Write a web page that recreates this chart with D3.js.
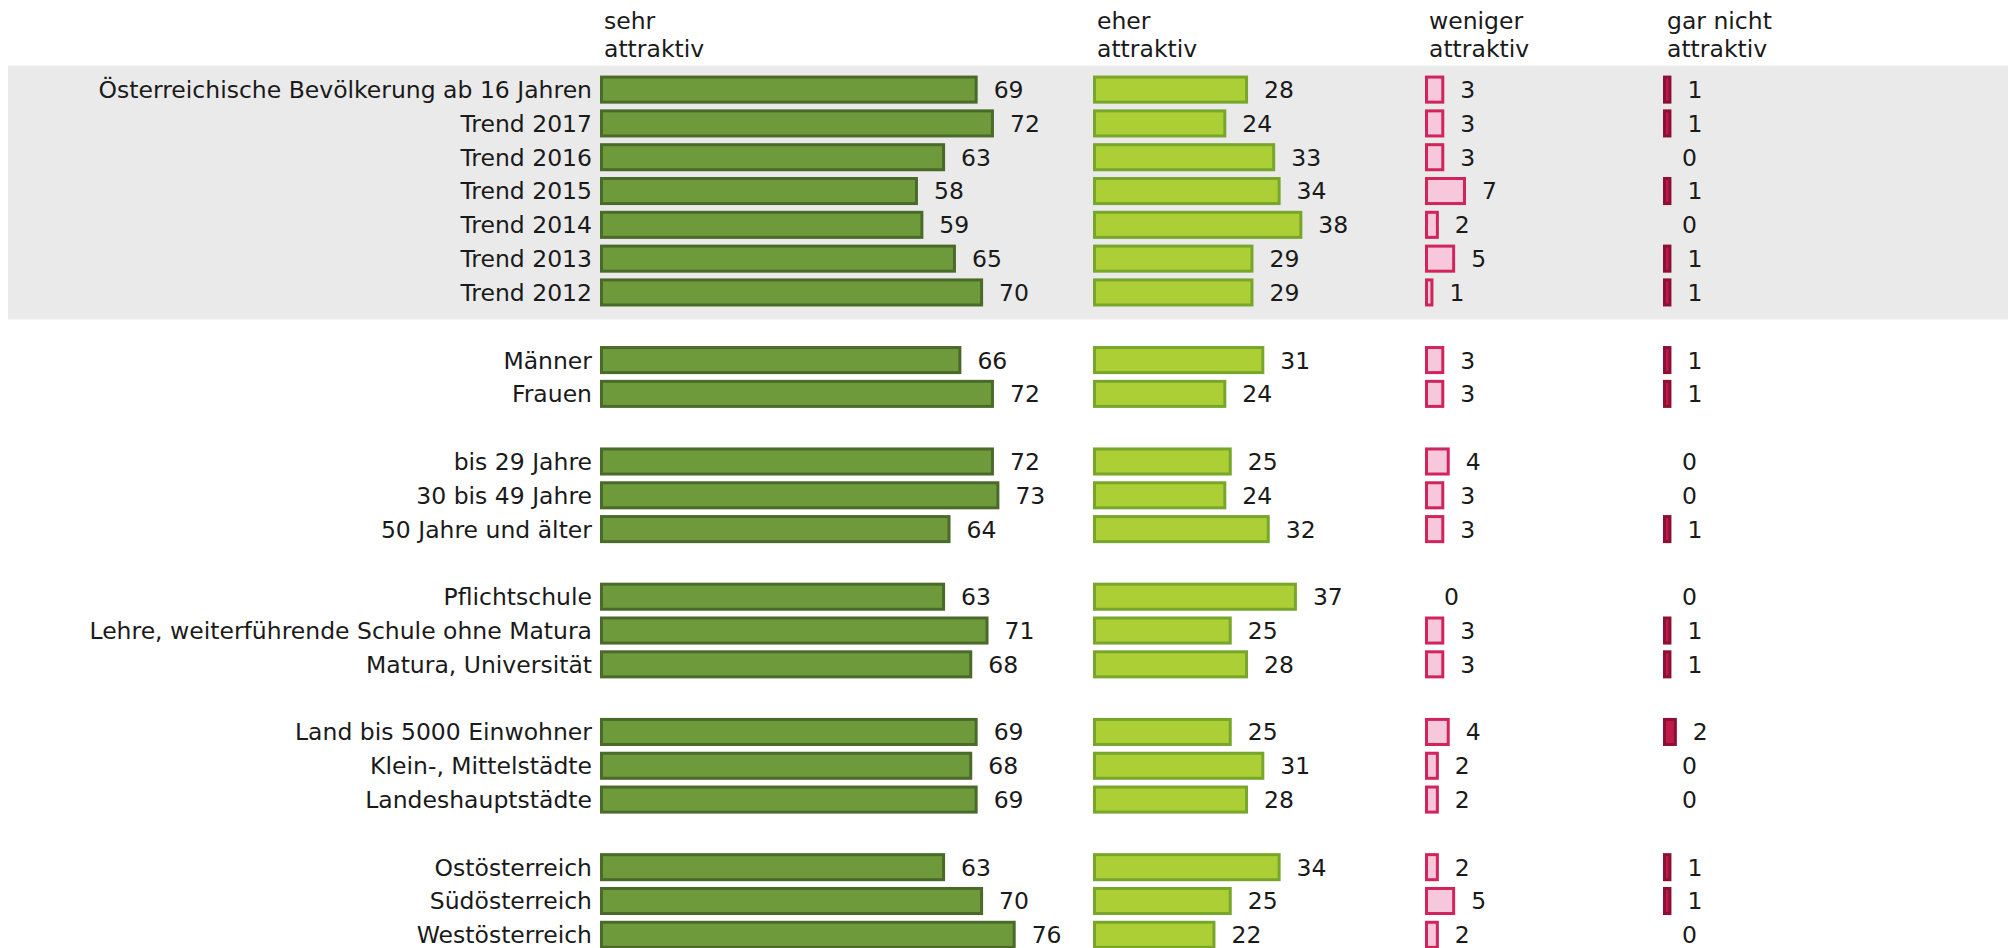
<!DOCTYPE html>
<html>
<head>
<meta charset="utf-8">
<script src="https://cdn.jsdelivr.net/npm/d3@7"></script>
<style>
  body { margin: 0; background: #fff; }
  text { font-family: "DejaVu Sans", sans-serif; fill: #1a1a1a; }
</style>
</head>
<body>
<div id="chart"></div>
<script>
// data
var labels = ["Österreichische Bevölkerung ab 16 Jahren", "Trend 2017", "Trend 2016", "Trend 2015",
  "Trend 2014", "Trend 2013", "Trend 2012", "Männer", "Frauen", "bis 29 Jahre", "30 bis 49 Jahre",
  "50 Jahre und älter", "Pflichtschule", "Lehre, weiterführende Schule ohne Matura",
  "Matura, Universität", "Land bis 5000 Einwohner", "Klein-, Mittelstädte", "Landeshauptstädte",
  "Ostösterreich", "Südösterreich", "Westösterreich"];
var groups = [0, 0, 0, 0, 0, 0, 0, 1, 1, 2, 2, 2, 3, 3, 3, 4, 4, 4, 5, 5, 5];
var categories = ["sehr\nattraktiv", "eher\nattraktiv", "weniger\nattraktiv", "gar nicht\nattraktiv"];
var sehr    = [69, 72, 63, 58, 59, 65, 70, 66, 72, 72, 73, 64, 63, 71, 68, 69, 68, 69, 63, 70, 76];
var eher    = [28, 24, 33, 34, 38, 29, 29, 31, 24, 25, 24, 32, 37, 25, 28, 25, 31, 28, 34, 25, 22];
var weniger = [3, 3, 3, 7, 2, 5, 1, 3, 3, 4, 3, 3, 0, 3, 3, 4, 2, 2, 2, 5, 2];
var garNicht = [1, 1, 0, 1, 0, 1, 1, 1, 1, 0, 0, 1, 0, 1, 1, 2, 0, 0, 1, 1, 0];

var series = [sehr, eher, weniger, garNicht];
var colStart = [600, 1093, 1425, 1663];
var fills   = ["#6f9a3c", "#abcf35", "#f7c8db", "#c01a4b"];
var strokes = ["#4a6a2a", "#77a62b", "#d0245a", "#8c1036"];
var fontSize = "23.5px";

var W = 2008, H = 948;
var svg = d3.select("#chart").append("svg")
    .attr("width", W).attr("height", H);

// slots: one empty slot between groups
var slots = labels.map(function(d, i) { return i + groups[i]; });
var nSlots = slots[slots.length - 1] + 1;

var y = d3.scaleBand()
    .domain(d3.range(nSlots))
    .range([72.7, 951.7])
    .paddingInner(0.17)
    .paddingOuter(0.085);

var x = d3.scaleLinear().domain([0, 100]).range([0, 543]);

// grey band behind the trend block
svg.append("rect")
    .attr("x", 8)
    .attr("y", y(0) - 10)
    .attr("width", W - 8)
    .attr("height", y(6) + y.bandwidth() + 13 - (y(0) - 10))
    .attr("fill", "#eaeaea");

// column headers
categories.forEach(function(c, j) {
  var t = svg.append("text")
      .attr("x", colStart[j] + 4)
      .attr("y", 29)
      .style("font-size", fontSize);
  c.split("\n").forEach(function(line, k) {
    t.append("tspan")
        .attr("x", colStart[j] + 4)
        .attr("dy", k === 0 ? 0 : 28)
        .text(line);
  });
});

// row labels
svg.selectAll(".rowlabel")
    .data(labels)
  .enter().append("text")
    .attr("class", "rowlabel")
    .attr("text-anchor", "end")
    .attr("x", colStart[0] - 8)
    .attr("y", function(d, i) { return y(slots[i]) + y.bandwidth() / 2; })
    .attr("dy", "0.36em")
    .style("font-size", fontSize)
    .text(function(d) { return d; });

series.forEach(function(vals, j) {
  var rows = vals.map(function(v, i) { return {v: v, slot: slots[i]}; });
  var g = svg.append("g");
  g.selectAll("rect")
      .data(rows.filter(function(d) { return d.v > 0; }))
    .enter().append("rect")
      .attr("x", colStart[j] + 1.5)
      .attr("y", function(d) { return y(d.slot) + 1.5; })
      .attr("width", function(d) { return x(d.v); })
      .attr("height", y.bandwidth() - 3)
      .attr("fill", fills[j])
      .attr("stroke", strokes[j])
      .attr("stroke-width", 3);

  g.selectAll("text")
      .data(rows)
    .enter().append("text")
      .attr("x", function(d) { return colStart[j] + x(d.v) + 19; })
      .attr("y", function(d) { return y(d.slot) + y.bandwidth() / 2; })
      .attr("dy", "0.36em")
      .style("font-size", fontSize)
      .text(function(d) { return d.v; });
});
</script>
</body>
</html>
